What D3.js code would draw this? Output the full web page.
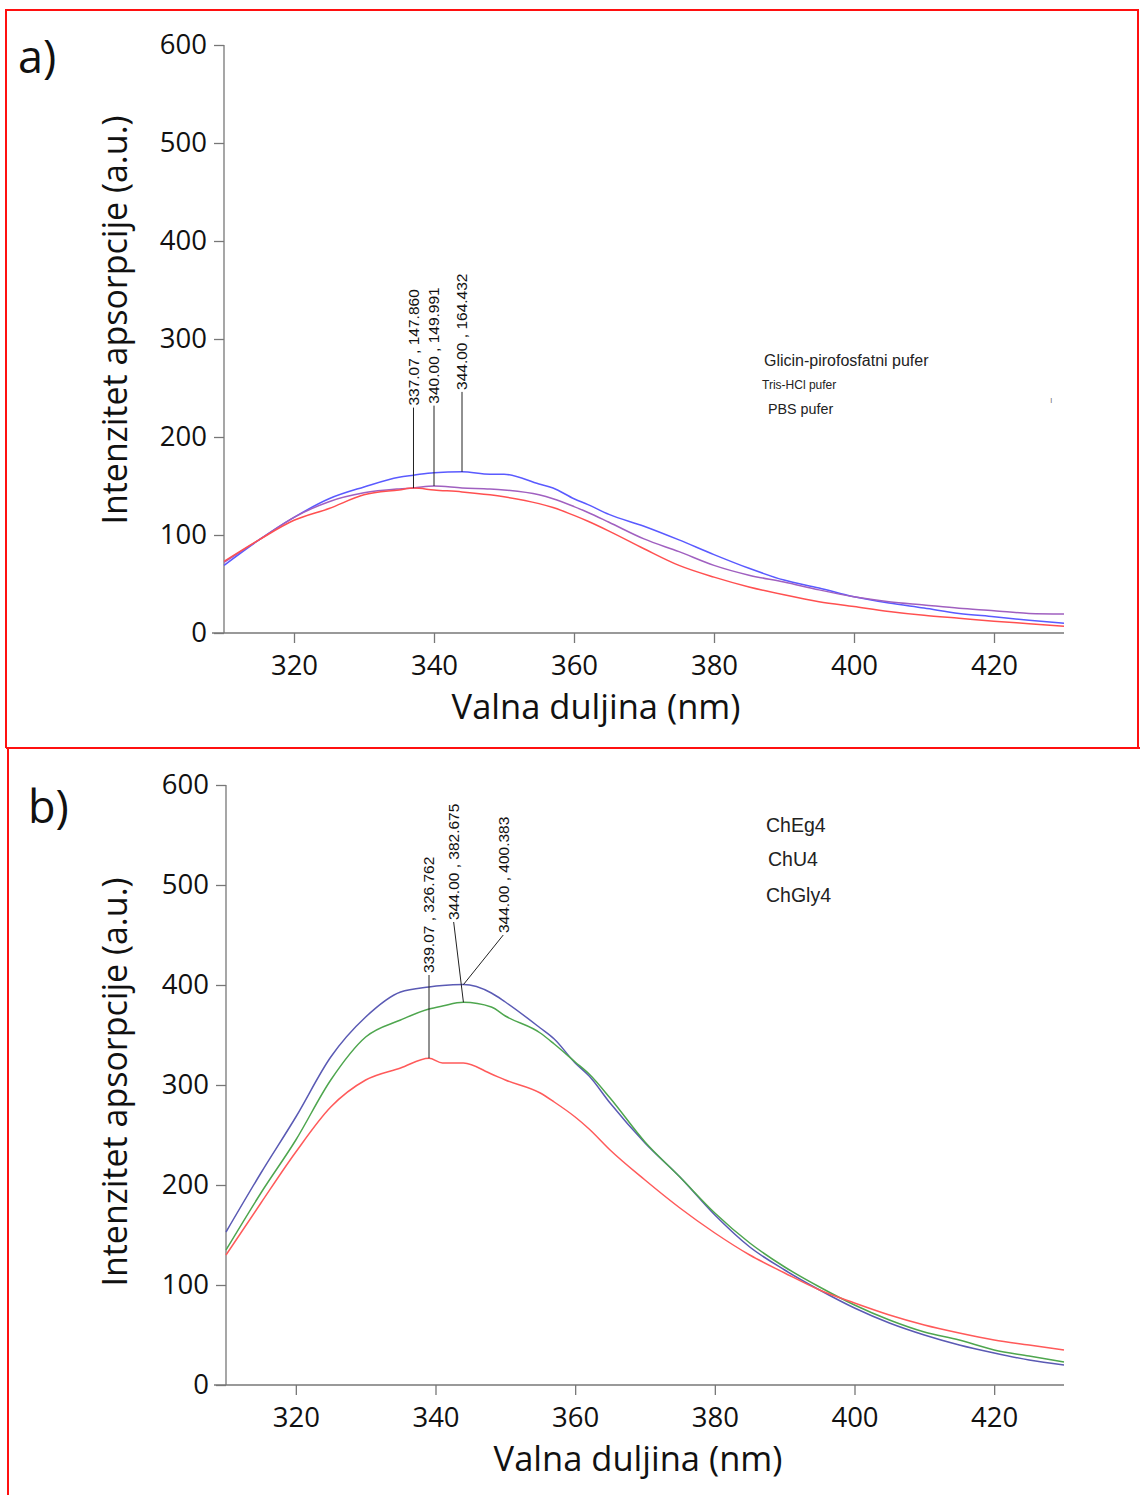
<!DOCTYPE html>
<html><head><meta charset="utf-8">
<script src="https://cdn.jsdelivr.net/npm/d3@7"></script>
<style>
body{margin:0;background:#fff;}
svg{display:block;}
</style></head>
<body>
<svg id="c" width="1140" height="1495"></svg>
<script>
// ---- Data ----
const aWavelengths = [310,315,320,325,330,335,337.07,340,344,348,350,355,357,360,362,365,370,375,380,385,390,395,400,405,410,415,420,425,430];
const bWavelengths = [310,315,320,325,330,335,339.07,341,344,348,350,355,357,360,362,365,370,375,380,385,390,395,400,405,410,415,420,425,430];

// Panel a
const aGlicin = [69,95,118,137,149,159,161,163.6,164.432,162,162,152,148,137,131,121,109,95,80,66,54,46,37,30.6,25.5,20,16.6,13,10];
const aTris   = [72,95,118,134,143,147,148,149.991,148,147,146,141,137,129,123,113,96,83,69,59,52,44,37,32,28.6,25.2,22.8,20,19.4];
const aPBS    = [73,95,115,127,141,146,147.860,146,144,141,139,132,128,120,114,104,86,69,57,47,39,32,27,22,18,15,12,9.5,7];

// Panel b
const bChEg4  = [153,212,268,328,368,393,398,399.5,400.383,392,383,357,346,322,309,282,242,208,170,138,115,95,77,62,50,40,32,25,20];
const bChU4   = [135,192,245,305,348,365,376,379,382.675,378,369,352,341,323,311,287,243,208,172,142,118,98,80,65,53,45,35,29,23];
const bChGly4 = [130,182,233,278,305,317,326.762,322,322,311,305,292,283,268,256,235,205,177,152,130,112,95,82,70,60,52,45,40,35];

const xTicks = [320,340,360,380,400,420];
const yTicks = [0,100,200,300,400,500,600];

const aLegend = ["Glicin-pirofosfatni pufer","Tris-HCl pufer","PBS pufer"];
const bLegend = ["ChEg4","ChU4","ChGly4"];

const aPeaks = [
  {x:337.07, y:147.860, label:"337.07 , 147.860"},
  {x:340.00, y:149.991, label:"340.00 , 149.991"},
  {x:344.00, y:164.432, label:"344.00 , 164.432"}
];
const bPeaks = [
  {x:339.07, y:326.762, label:"339.07 , 326.762"},
  {x:344.00, y:382.675, label:"344.00 , 382.675"},
  {x:344.00, y:400.383, label:"344.00 , 400.383"}
];

const svg = d3.select("#c");

// ---- Red frames ----
svg.append("path").attr("d","M6,748 L6,10 L1138,10 L1138,748")
  .attr("fill","none").attr("stroke","#ff1010").attr("stroke-width",2);
svg.append("line").attr("x1",6).attr("x2",1140).attr("y1",748).attr("y2",748)
  .attr("stroke","#ff1010").attr("stroke-width",2);
svg.append("line").attr("x1",8).attr("x2",8).attr("y1",748).attr("y2",1495)
  .attr("stroke","#ff1010").attr("stroke-width",2);

function panel(cfg){
  const x = d3.scaleLinear().domain([310,430]).range([cfg.x0,cfg.x1]);
  const y = d3.scaleLinear().domain([0,600]).range([cfg.y0,cfg.y1]);
  const g = svg.append("g");

  const xAxis = g.append("g").attr("transform",`translate(0,${cfg.y0})`)
    .call(d3.axisBottom(x).tickValues(xTicks).tickSize(10).tickPadding(12).tickSizeOuter(0));
  const yAxis = g.append("g").attr("transform",`translate(${cfg.x0},0)`)
    .call(d3.axisLeft(y).tickValues(yTicks).tickSize(10).tickPadding(7).tickSizeOuter(0));
  [xAxis,yAxis].forEach(a=>{
    a.select(".domain").attr("stroke","#777").attr("stroke-width",1.3);
    a.selectAll(".tick line").attr("stroke","#777").attr("stroke-width",1.3);
    a.selectAll(".tick text").attr("fill","#111")
      .style("font-family","'Open Sans', sans-serif").style("font-size","27.5px");
  });
  xAxis.select(".domain").attr("d",`M${cfg.x0-12},0H${cfg.x1}`);
  yAxis.select(".domain").attr("d",`M0,${cfg.y1}V${cfg.y0}`);

  // titles
  g.append("text").attr("x",cfg.xt).attr("y",cfg.y0+86).attr("text-anchor","middle")
    .style("font-family","'Open Sans', sans-serif").style("font-size","34.5px").attr("fill","#111")
    .text("Valna duljina (nm)");
  g.append("text").attr("transform",`translate(${cfg.yTx},${cfg.yTy}) rotate(-90)`)
    .attr("text-anchor","middle")
    .style("font-family","'Open Sans', sans-serif").style("font-size","34px").attr("fill","#111")
    .text("Intenzitet apsorpcije (a.u.)");
  g.append("text").attr("x",cfg.lx).attr("y",cfg.ly)
    .style("font-family","'Open Sans', sans-serif").style("font-size","45px").attr("fill","#111")
    .text(cfg.letter);

  const line = d3.line().x((d,i)=>x(cfg.wl[i])).y(d=>y(d)).curve(d3.curveMonotoneX);
  cfg.series.forEach(s=>{
    g.append("path").datum(s.values).attr("d",line)
      .attr("fill","none").attr("stroke",s.color).attr("stroke-width",1.5);
  });

  // peaks
  cfg.peaks.forEach((p,i)=>{
    const lp = cfg.labelPos[i];
    g.append("line").attr("x1",x(p.x)).attr("y1",y(p.y)).attr("x2",x(lp[0])).attr("y2",y(lp[1]))
      .attr("stroke","#222").attr("stroke-width",1);
    g.append("text").attr("transform",`translate(${x(lp[0])},${y(lp[1])-2}) rotate(-90)`)
      .attr("dy","0.35em")
      .style("font-family","Arial, 'Liberation Sans', sans-serif").style("font-size","15.5px").attr("fill","#111")
      .text(p.label);
  });

  // legend
  cfg.legend.forEach(l=>{
    g.append("text").attr("x",l.x).attr("y",l.y)
      .style("font-family","Arial, 'Liberation Sans', sans-serif").style("font-size",l.size+"px")
      .attr("fill", l.fill || "#222")
      .text(l.t);
  });
}

panel({
  wl:aWavelengths,
  x0:224, x1:1064, y0:633, y1:45, xt:596, yTx:127, yTy:320, lx:18, ly:73, letter:"a)",
  series:[
    {values:aGlicin, color:"#5a5aff"},
    {values:aTris, color:"#a060c0"},
    {values:aPBS, color:"#ff5050"}
  ],
  peaks:aPeaks,
  labelPos:[[337.07,230],[340.0,232],[344.0,246]],
  legend:[
    {t:aLegend[0], x:764, y:366, size:16},
    {t:aLegend[1], x:762, y:389, size:12},
    {t:aLegend[2], x:768, y:414, size:14.3},
    {t:"ı", x:1050, y:403, size:9, fill:"#777"}
  ]
});

panel({
  wl:bWavelengths,
  x0:226, x1:1064, y0:1385, y1:785, xt:638, yTx:127, yTy:1082, lx:28, ly:823, letter:"b)",
  series:[
    {values:bChEg4, color:"#5a5ab4"},
    {values:bChU4, color:"#4ea64e"},
    {values:bChGly4, color:"#ff5a5a"}
  ],
  peaks:bPeaks,
  labelPos:[[339.07,410],[342.6,463],[349.7,450]],
  legend:[
    {t:bLegend[0], x:766, y:832, size:19.5},
    {t:bLegend[1], x:768, y:866, size:19.5},
    {t:bLegend[2], x:766, y:902, size:19.5}
  ]
});
</script>
</body></html>
